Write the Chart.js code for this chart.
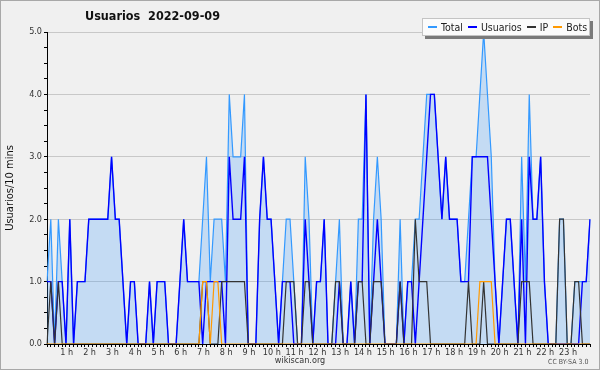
<!DOCTYPE html>
<html><head><meta charset="utf-8">
<script src="https://cdn.jsdelivr.net/npm/chart.js@4/dist/chart.umd.min.js"></script>
<style>
html,body{margin:0;padding:0;background:#f0f0f0;}
#wrap{position:relative;width:600px;height:370px;background:#f0f0f0;overflow:hidden;font-family:'DejaVu Sans Condensed','DejaVu Sans',sans-serif;}
#c{position:absolute;left:0;top:0;}
#frame{position:absolute;left:0;top:0;width:598px;height:368px;border:1px solid #a8a8a8;pointer-events:none;}
#title{position:absolute;left:85px;top:8px;font-weight:bold;font-size:12.5px;color:#111;white-space:pre;}
#legend{position:absolute;left:422px;top:18px;height:16px;width:166px;background:#fbfbfb;border:1px solid #c4c4c4;box-shadow:3px 3px 0 #7a7a7a;display:flex;align-items:center;font-size:10.5px;color:#222;white-space:nowrap;}
#legend span.mk{display:inline-block;width:9px;height:1.5px;margin:0 4px 0 5px;}
#foot{position:absolute;left:0;width:600px;top:355px;text-align:center;font-size:9px;color:#333;}
#cc{position:absolute;left:548px;top:358px;font-size:7px;color:#555;}
</style></head>
<body><div id="wrap">
<canvas id="c" width="600" height="370"></canvas>
<div id="title"></div>
<div id="legend"></div>
<div id="foot">wikiscan.org</div>
<div id="cc">CC BY-SA 3.0</div>
<div id="frame"></div>
</div>
<script>
const chartTitle = "Usuarios  2022-09-09";
const yTitle = "Usuarios/10 mins";
const hourLabels = ["1 h","2 h","3 h","4 h","5 h","6 h","7 h","8 h","9 h","10 h","11 h","12 h","13 h","14 h","15 h","16 h","17 h","18 h","19 h","20 h","21 h","22 h","23 h"];
const seriesNames = ["Total","Usuarios","IP","Bots"];
const seriesColors = ["#3399ff","#0000ff","#333333","#ff9900"];

const total = [
 1,2,0,2,1,0,2,0,1,1, 1,2,2,2,2,2,2,3,2,2, 1,0,1,1,0,0,0,1,0,1, 1,1,0,0,0,1,2,1,1,1,
 1,2,3,1,2,2,2,1,4,3, 3,3,4,0,0,0,2,3,2,2, 1,0,1,2,2,1,0,0,3,2, 0,1,1,2,0,0,1,2,0,0,
 1,0,2,2,4,0,2,3,2,0, 0,0,0,2,0,1,1,2,2,3, 4,4,4,3,2,3,2,2,2,1, 1,2,3,3,4,5,4,3,1,0,
 1,2,2,1,0,3,1,4,2,2, 3,1,0,0,0,2,2,0,0,1, 1,1,1,2];
const usuarios = [
 1,1,0,1,1,0,2,0,1,1, 1,2,2,2,2,2,2,3,2,2, 1,0,1,1,0,0,0,1,0,1, 1,1,0,0,0,1,2,1,1,1,
 1,0,1,1,1,1,1,0,3,2, 2,2,3,0,0,0,2,3,2,2, 1,0,1,1,1,0,0,0,2,1, 0,1,1,2,0,0,0,1,0,0,
 1,0,1,1,4,0,1,2,1,0, 0,0,0,1,0,1,1,0,1,2, 3,4,4,3,2,3,2,2,2,1, 1,1,3,3,3,3,3,2,1,0,
 1,2,2,1,0,2,0,3,2,2, 3,1,0,0,0,0,0,0,0,0, 0,1,1,2];
const ip = [
 0,1,0,1,0,0,0,0,0,0, 0,0,0,0,0,0,0,0,0,0, 0,0,0,0,0,0,0,0,0,0, 0,0,0,0,0,0,0,0,0,0,
 0,1,1,0,0,0,1,1,1,1, 1,1,1,0,0,0,0,0,0,0, 0,0,0,1,1,1,0,0,1,1, 0,0,0,0,0,0,1,1,0,0,
 0,0,1,1,0,0,1,1,1,0, 0,0,0,1,0,0,0,2,1,1, 1,0,0,0,0,0,0,0,0,0, 0,1,0,0,0,1,0,0,0,0,
 0,0,0,0,0,1,1,1,0,0, 0,0,0,0,0,2,2,0,0,1, 1,0,0,0];
const bots = [
 0,0,0,0,0,0,0,0,0,0, 0,0,0,0,0,0,0,0,0,0, 0,0,0,0,0,0,0,0,0,0, 0,0,0,0,0,0,0,0,0,0,
 0,1,1,0,1,1,0,0,0,0, 0,0,0,0,0,0,0,0,0,0, 0,0,0,0,0,0,0,0,0,0, 0,0,0,0,0,0,0,0,0,0,
 0,0,0,0,0,0,0,0,0,0, 0,0,0,0,0,0,0,0,0,0, 0,0,0,0,0,0,0,0,0,0, 0,0,0,0,1,1,1,1,0,0,
 0,0,0,0,0,0,0,0,0,0, 0,0,0,0,0,0,0,0,0,0, 0,0,0,0];

// 10-minute slots of the day
const categories = total.map((_, i) => String(Math.floor(i/6)).padStart(2,'0') + ':' + String((i%6)*10).padStart(2,'0'));

document.getElementById('title').textContent = chartTitle;
const lg = document.getElementById('legend');
seriesNames.forEach((n, k) => {
  const m = document.createElement('span'); m.className = 'mk'; m.style.background = seriesColors[k];
  const t = document.createElement('span'); t.textContent = n;
  lg.appendChild(m); lg.appendChild(t);
});

const FONT = "'DejaVu Sans Condensed','DejaVu Sans',sans-serif";
new Chart(document.getElementById('c'), {
  type: 'line',
  data: {
    labels: categories,
    datasets: [
      {label: seriesNames[3], data: bots, borderColor: seriesColors[3], borderWidth: 1.2, pointRadius: 0, fill: false, tension: 0, order: 0},
      {label: seriesNames[2], data: ip, borderColor: seriesColors[2], borderWidth: 1.2, pointRadius: 0, fill: false, tension: 0, order: 1},
      {label: seriesNames[1], data: usuarios, borderColor: seriesColors[1], borderWidth: 1.4, pointRadius: 0, fill: false, tension: 0, order: 2},
      {label: seriesNames[0], data: total, borderColor: seriesColors[0], borderWidth: 1.2, backgroundColor: 'rgba(51,153,255,0.23)', pointRadius: 0, fill: 'origin', tension: 0, order: 3}
    ]
  },
  options: {
    responsive: false, animation: false, devicePixelRatio: 1,
    layout: {padding: {left: 0, right: 10, top: 32, bottom: 0}},
    plugins: {legend: {display: false}, title: {display: false}, tooltip: {enabled: false}},
    scales: {
      x: {
        type: 'category', offset: false,
        grid: {drawOnChartArea: false, drawTicks: true, tickLength: 3, color: '#000'},
        border: {color: '#000', width: 1},
        ticks: {autoSkip: false, maxRotation: 0, minRotation: 0, padding: 0, labelOffset: -3, color: '#333', font: {family: FONT, size: 9},
          callback: (v, i) => (i > 0 && i % 6 === 0) ? hourLabels[i/6 - 1] : ''},
        afterFit: s => { s.height = 26; }
      },
      y: {
        min: 0, max: 5,
        grid: {color: c => (c.tick && Number.isInteger(c.tick.value)) ? '#c8c8c8' : 'rgba(0,0,0,0)', tickColor: '#000', tickLength: 3, drawTicks: true},
        border: {color: '#000', width: 1},
        ticks: {stepSize: 0.25, autoSkip: false, padding: 2, color: '#333', font: {family: FONT, size: 9},
          callback: v => Number.isInteger(v) ? v.toFixed(1) : ''},
        title: {display: true, text: yTitle, color: '#111', font: {family: FONT, size: 11}, padding: {top: 4, bottom: 0}},
        afterFit: s => { s.width = 47; }
      }
    }
  }
});
</script>
</body></html>
